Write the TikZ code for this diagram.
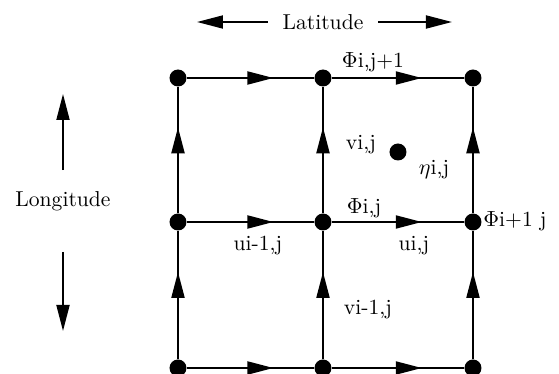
\documentclass[tikz,border=0pt]{standalone}
\usepackage{amsmath}
\usepackage{xcolor}
\usepackage{tikz}
\usetikzlibrary{arrows.meta, decorations.markings}

\begin{document}
\begin{tikzpicture}[
  x=0.5pt, y=-0.5pt,
  every node/.style={font=\fontsize{10.8}{13}\selectfont},
  gridpt/.style={circle, fill=black, inner sep=0pt, minimum size=8.5pt},
  flow/.style={line width=1pt, draw=black,
    postaction={decorate},
    decoration={markings, mark=at position 0.68 with {\arrow{Triangle[length=13pt, width=6.5pt]}}}},
  axis/.style={line width=0.9pt, -{Triangle[length=13pt, width=6.5pt]}},
  label/.style={inner sep=1pt},
]
  \useasboundingbox (0,0) rectangle (559,374);

  % grid points
  \node[gridpt] (tl) at (178,78) {};
  \node[gridpt] (tm) at (323,78) {};
  \node[gridpt] (tr) at (473,78) {};
  \node[gridpt] (ml) at (178,222) {};
  \node[gridpt] (mm) at (323,222) {};
  \node[gridpt] (mr) at (473,222) {};
  \node[gridpt] (bl) at (178,368) {};
  \node[gridpt] (bm) at (323,368) {};
  \node[gridpt] (br) at (473,368) {};
  \node[gridpt] (eta) at (398,152) {};

  % u points
  \draw[flow] (tl) -- (tm);
  \draw[flow] (tm) -- (tr);
  \draw[flow] (ml) -- (mm);
  \draw[flow] (mm) -- (mr);
  \draw[flow] (bl) -- (bm);
  \draw[flow] (bm) -- (br);
  % v points
  \draw[flow] (ml) -- (tl);
  \draw[flow] (mm) -- (tm);
  \draw[flow] (mr) -- (tr);
  \draw[flow] (bl) -- (ml);
  \draw[flow] (bm) -- (mm);
  \draw[flow] (br) -- (mr);

  \node[label] (phitop) at (373,62) {$\Phi$i,j+1};
  \node[label] (vij) at (361,145) {vi,j};
  \node[label] (etaij) at (434,170) {$\eta$i,j};
  \node[label] (phiij) at (364,208) {$\Phi$i,j};
  \node[label] (phiright) at (515,221) {$\Phi$i+1 j};
  \node[label] (uleft) at (258,246) {ui-1,j};
  \node[label] (uij) at (414,246) {ui,j};
  \node[label] (vlow) at (368,310) {vi-1,j};

  % axes
  \node (lat) at (323,22) {Latitude};
  \coordinate (latL) at (197,22);
  \coordinate (latR) at (452,22);
  \draw[axis, shorten <=4pt] (lat) -- (latL);
  \draw[axis, shorten <=4pt] (lat) -- (latR);

  \node (lon) at (63,201) {Longitude};
  \coordinate (lonU) at (63,94);
  \coordinate (lonD) at (63,331);
  \draw[axis, shorten <=7pt] (lon) -- (lonU);
  \draw[axis, shorten <=17pt] (lon) -- (lonD);
\end{tikzpicture}
\end{document}
